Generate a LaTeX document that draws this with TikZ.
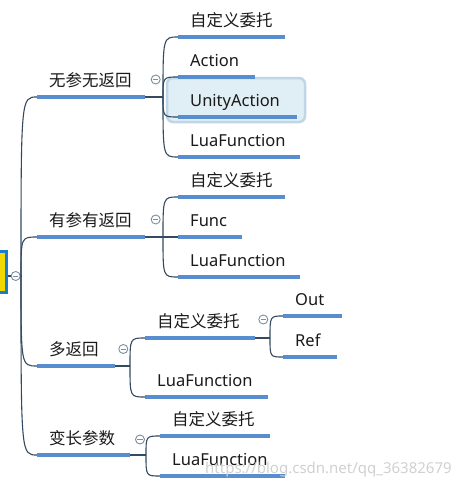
\documentclass[tikz,border=0pt]{standalone}
\usepackage{fontspec}
\setmainfont{Noto Sans}
\newfontfamily\cjk{Noto Sans CJK SC}
\usetikzlibrary{calc}
\definecolor{ulblue}{RGB}{88,141,208}
\definecolor{connc}{RGB}{52,74,96}
\definecolor{circc}{RGB}{125,142,156}
\definecolor{rootblue}{RGB}{30,124,196}
\definecolor{rootyellow}{RGB}{240,216,0}
\definecolor{hlfill}{RGB}{224,238,245}
\definecolor{hldraw}{RGB}{190,214,230}
\definecolor{txtc}{RGB}{26,26,26}
\tikzset{
  uline/.style={draw=ulblue, line width=3.2pt},
  conn/.style={draw=connc, line width=1.1pt},
  txt/.style={anchor=base west, inner sep=0pt, text=txtc, font=\fontsize{16.5}{20}\selectfont},
  collapse/.style={circle, draw=circc, fill=white, line width=0.9pt, minimum size=9pt, inner sep=0pt,
    path picture={\draw[circc, line width=0.9pt] ([xshift=-2.6pt]path picture bounding box.center) -- ([xshift=2.6pt]path picture bounding box.center);}},
  rootbox/.style={draw=rootblue, fill=rootyellow, line width=3pt, minimum width=17pt, minimum height=41pt, inner sep=0pt},
  hlbox/.style={draw=hldraw, fill=hlfill, line width=2.5pt, rounded corners=6pt},
  wmark/.style={anchor=base west, inner sep=0pt, text=black!18, font=\fontsize{15}{18}\selectfont}
}
\newcommand\mmtopic[5]{%
  \coordinate (#1L) at (#2,#4);
  \coordinate (#1R) at (#3,#4);
  \draw[uline] (#1L) -- (#1R);
  \node[txt] (#1) at (#2+12,#4-11) {#5};
}
\begin{document}
\begin{tikzpicture}[x=1pt,y=-1pt]
\useasboundingbox (0,0) rectangle (458,485);
\fill[white] (0,0) rectangle (458,485);

% root
\node[rootbox] (root) at (-2,272) {};
\node[collapse] (rc) at (15.7,276) {};
\coordinate (J) at (21,276);
\draw[conn] (root.east |- rc.center) -- (rc.west);
\draw[conn] (rc.east) -- (J);

% main branches
\mmtopic{b1}{37}{145}{97}{{\cjk 无参无返回}}
\mmtopic{b2}{37}{145}{237}{{\cjk 有参有返回}}
\mmtopic{b3}{37}{115}{366}{{\cjk 多返回}}
\mmtopic{b4}{37}{130}{455}{{\cjk 变长参数}}
\foreach \b in {b1,b2,b3,b4}
  \draw[conn] (J) .. controls (J |- \b L) .. (\b L);

\node[collapse] (k1) at (155.7,79.5) {};
\node[collapse] (k2) at (155.7,219.5) {};
\node[collapse] (k3) at (123.3,349) {};
\node[collapse] (k4) at (140,439.5) {};
\node[collapse] (k5) at (263.3,319.5) {};

% group 1
\draw[hlbox] (167,78) rectangle (305,122);
\mmtopic{a1}{178}{285}{37}{{\cjk 自定义委托}}
\mmtopic{a2}{178}{255}{77}{Action}
\mmtopic{a3}{178}{297}{117}{UnityAction}
\mmtopic{a4}{178}{300}{157}{LuaFunction}
\coordinate (j1) at (163,97);
\draw[conn] (b1R) -- (j1);
\foreach \c in {a1,a2,a3,a4}
  \draw[conn] (j1) .. controls (j1 |- \c L) .. (\c L);

% group 2
\mmtopic{d1}{178}{285}{197}{{\cjk 自定义委托}}
\mmtopic{d2}{178}{242}{237}{Func}
\mmtopic{d3}{178}{300}{277}{LuaFunction}
\coordinate (j2) at (163,237);
\draw[conn] (b2R) -- (j2);
\foreach \c in {d1,d2,d3}
  \draw[conn] (j2) .. controls (j2 |- \c L) .. (\c L);

% group 3
\mmtopic{e1}{145}{255}{338}{{\cjk 自定义委托}}
\mmtopic{e2}{145}{268}{397}{LuaFunction}
\coordinate (j3) at (130,366);
\draw[conn] (b3R) -- (j3);
\foreach \c in {e1,e2}
  \draw[conn] (j3) .. controls (j3 |- \c L) .. (\c L);

\mmtopic{f1}{283}{342}{316}{Out}
\mmtopic{f2}{283}{337}{357}{Ref}
\coordinate (j5) at (270,338);
\draw[conn] (e1R) -- (j5);
\foreach \c in {f1,f2}
  \draw[conn] (j5) .. controls (j5 |- \c L) .. (\c L);

% group 4
\mmtopic{g1}{160}{270}{436}{{\cjk 自定义委托}}
\mmtopic{g2}{160}{285}{476}{LuaFunction}
\coordinate (j4) at (146,455);
\draw[conn] (b4R) -- (j4);
\foreach \c in {g1,g2}
  \draw[conn] (j4) .. controls (j4 |- \c L) .. (\c L);

% watermark
\node[wmark] (wm) at (205,473) {https://blog.csdn.net/qq\_36382679};
\end{tikzpicture}
\end{document}
